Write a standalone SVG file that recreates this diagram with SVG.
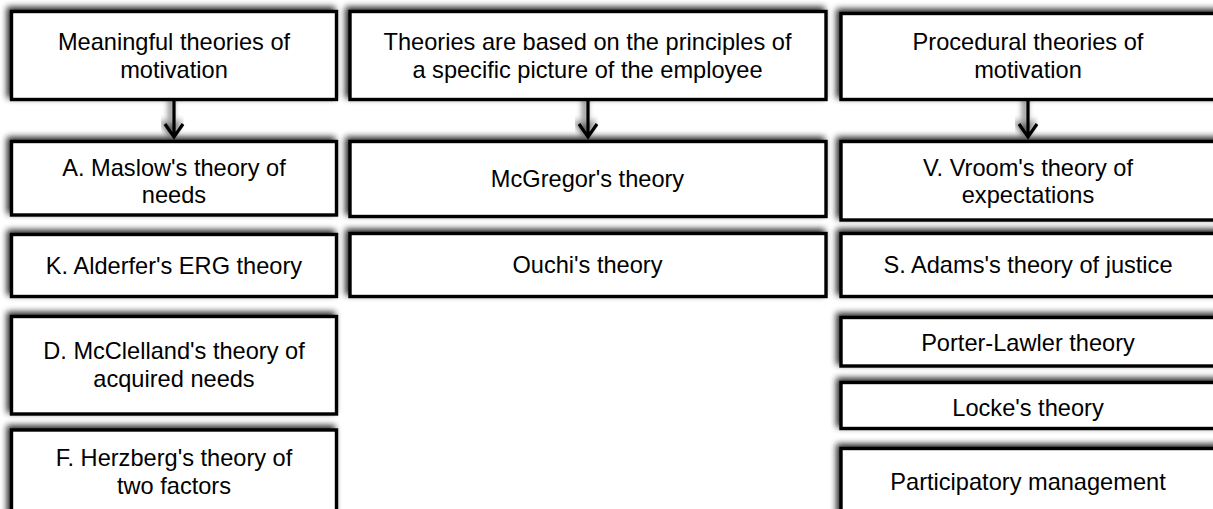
<svg xmlns="http://www.w3.org/2000/svg" width="1213" height="509" viewBox="0 0 1213 509">
<style>
.box{fill:#fff;stroke:#000;stroke-width:3.4;filter:url(#sh)}
.t{font-family:"Liberation Sans",Arial,sans-serif;font-size:23.6px;fill:#000;text-anchor:middle}
.c{fill:none;stroke:#000;stroke-width:3.2;filter:url(#sh)}
</style>
<defs>
<filter id="sh" x="-20%" y="-40%" width="140%" height="180%">
<feGaussianBlur in="SourceAlpha" stdDeviation="3"/>
<feOffset dx="-3" dy="-3" result="b"/>
<feComponentTransfer><feFuncA type="linear" slope="0.85"/></feComponentTransfer>
<feMerge><feMergeNode/><feMergeNode in="SourceGraphic"/></feMerge>
</filter>
</defs>
<rect width="1213" height="509" fill="#fff"/>
<g id="connectors">
<path class="c" d="M174 100V137M165 124L174 137L183 124"/>
<path class="c" d="M588 100V137M579 124L588 137L597 124"/>
<path class="c" d="M1028 100V137M1019 124L1028 137L1037 124"/>
</g>
<g id="n-meaningful"><rect class="box" x="11.5" y="11.5" width="325" height="88"/><text class="t" x="174" y="50">Meaningful theories of</text><text class="t" x="174" y="78">motivation</text></g>
<g id="n-maslow"><rect class="box" x="11.5" y="141.5" width="325" height="73.5"/><text class="t" x="174" y="176">A. Maslow's theory of</text><text class="t" x="174" y="203">needs</text></g>
<g id="n-alderfer"><rect class="box" x="11.5" y="234.5" width="325" height="62"/><text class="t" x="174" y="274">K. Alderfer's ERG theory</text></g>
<g id="n-mcclelland"><rect class="box" x="11.5" y="316.5" width="325" height="97.5"/><text class="t" x="174" y="359">D. McClelland's theory of</text><text class="t" x="174" y="387">acquired needs</text></g>
<g id="n-herzberg"><rect class="box" x="11.5" y="430" width="325" height="90"/><text class="t" x="174" y="466">F. Herzberg's theory of</text><text class="t" x="174" y="494">two factors</text></g>
<g id="n-picture"><rect class="box" x="350" y="11.5" width="476" height="88"/><text class="t" x="587.5" y="50">Theories are based on the principles of</text><text class="t" x="587.5" y="78">a specific picture of the employee</text></g>
<g id="n-mcgregor"><rect class="box" x="350" y="141.5" width="476" height="75"/><text class="t" x="587.5" y="187">McGregor's theory</text></g>
<g id="n-ouchi"><rect class="box" x="350" y="233.5" width="476" height="63"/><text class="t" x="587.5" y="273">Ouchi's theory</text></g>
<g id="n-procedural"><rect class="box" x="841" y="13.5" width="380" height="86"/><text class="t" x="1028" y="50">Procedural theories of</text><text class="t" x="1028" y="78">motivation</text></g>
<g id="n-vroom"><rect class="box" x="841" y="141.5" width="380" height="78.5"/><text class="t" x="1028" y="176">V. Vroom's theory of</text><text class="t" x="1028" y="203">expectations</text></g>
<g id="n-adams"><rect class="box" x="841" y="233.5" width="380" height="63"/><text class="t" x="1028" y="273">S. Adams's theory of justice</text></g>
<g id="n-porter"><rect class="box" x="841" y="317.5" width="380" height="48.5"/><text class="t" x="1028" y="351">Porter-Lawler theory</text></g>
<g id="n-locke"><rect class="box" x="841" y="382.5" width="380" height="46"/><text class="t" x="1028" y="416">Locke's theory</text></g>
<g id="n-participatory"><rect class="box" x="841" y="448.5" width="380" height="72"/><text class="t" x="1028" y="490">Participatory management</text></g>
</svg>
